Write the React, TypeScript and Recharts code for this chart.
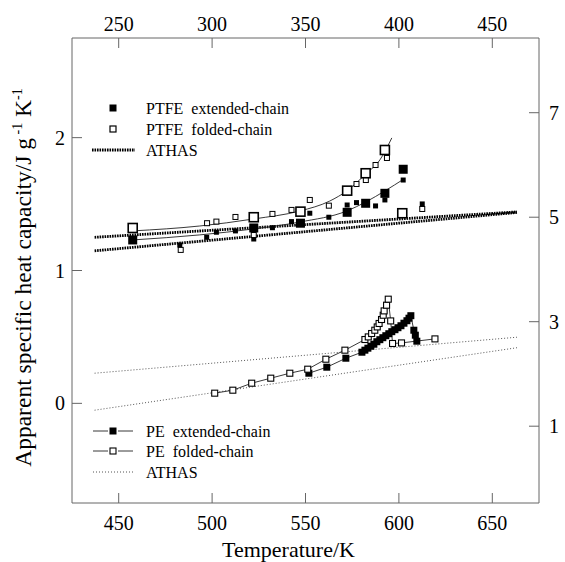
import React from 'react';
import { ComposedChart, XAxis, YAxis, Scatter, Line } from 'recharts';

// Axis ticks
const bottomTicks = [450, 500, 550, 600, 650];
const topTicks = [250, 300, 350, 400, 450];
const leftTicks = [0, 1, 2];
const rightTicks = [1, 3, 5, 7];

// PTFE (bottom axis: Temperature/K, left axis: J g-1 K-1)
const ptfeExtMain = [
  { T: 457.5, v: 1.23 }, { T: 522.3, v: 1.32 }, { T: 547.3, v: 1.356 }, { T: 572.3, v: 1.438 },
  { T: 582.2, v: 1.506 }, { T: 592.5, v: 1.581 }, { T: 602.3, v: 1.762 },
];
const ptfeFoldMain = [
  { T: 457.5, v: 1.32 }, { T: 522.3, v: 1.401 }, { T: 547.3, v: 1.443 }, { T: 572.3, v: 1.601 },
  { T: 582.2, v: 1.732 }, { T: 592.5, v: 1.907 }, { T: 601.8, v: 1.431 },
];
const ptfeExtRun2 = [
  { T: 482.7, v: 1.192 }, { T: 497.1, v: 1.25 }, { T: 502.3, v: 1.288 }, { T: 512.5, v: 1.298 },
  { T: 522.3, v: 1.237 }, { T: 532.3, v: 1.322 }, { T: 542.5, v: 1.368 }, { T: 552.3, v: 1.431 },
  { T: 562.5, v: 1.401 }, { T: 572.3, v: 1.493 }, { T: 577.3, v: 1.511 }, { T: 587.5, v: 1.486 },
  { T: 592.5, v: 1.531 }, { T: 602.3, v: 1.681 }, { T: 612.5, v: 1.501 },
];
const ptfeFoldRun2 = [
  { T: 483.2, v: 1.155 }, { T: 497.3, v: 1.356 }, { T: 502.3, v: 1.368 }, { T: 512.5, v: 1.403 },
  { T: 522.3, v: 1.267 }, { T: 532.3, v: 1.426 }, { T: 542.5, v: 1.456 }, { T: 552.3, v: 1.531 },
  { T: 562.5, v: 1.488 }, { T: 577.3, v: 1.651 }, { T: 582.3, v: 1.681 }, { T: 587.5, v: 1.794 },
  { T: 593.6, v: 1.847 }, { T: 612.5, v: 1.463 },
];
const ptfeExtFit = [
  { T: 457.5, v: 1.23 }, { T: 493.4, v: 1.268 }, { T: 522.3, v: 1.313 }, { T: 547.0, v: 1.365 },
  { T: 572.1, v: 1.448 }, { T: 582.3, v: 1.516 }, { T: 592.5, v: 1.599 }, { T: 602.7, v: 1.689 },
];
const ptfeFoldFit = [
  { T: 457.5, v: 1.298 }, { T: 493.4, v: 1.335 }, { T: 522.3, v: 1.388 }, { T: 547.0, v: 1.448 },
  { T: 563.0, v: 1.523 }, { T: 572.1, v: 1.599 }, { T: 582.3, v: 1.727 }, { T: 589.8, v: 1.832 },
  { T: 596.2, v: 1.998 },
];
const ptfeAthasLiquid = [{ T: 437.1, v: 1.25 }, { T: 663.2, v: 1.441 }];
const ptfeAthasSolid = [{ T: 437.1, v: 1.148 }, { T: 663.2, v: 1.437 }];

// PE (top axis: Temperature/K, right axis: J g-1 K-1)
const peFolded = [
  { T: 301.4, v: 1.632 }, { T: 311.1, v: 1.689 }, { T: 321.2, v: 1.823 }, { T: 331.4, v: 1.919 },
  { T: 341.6, v: 2.014 }, { T: 351.2, v: 2.091 }, { T: 360.9, v: 2.282 }, { T: 371.1, v: 2.455 },
  { T: 381.8, v: 2.659 }, { T: 383.6, v: 2.709 }, { T: 385.4, v: 2.774 }, { T: 387.1, v: 2.837 },
  { T: 388.4, v: 2.9 }, { T: 389.4, v: 2.966 }, { T: 390.7, v: 3.042 }, { T: 391.6, v: 3.124 },
  { T: 392.1, v: 3.207 }, { T: 393.4, v: 3.316 }, { T: 394.3, v: 3.431 }, { T: 395.6, v: 3.015 },
  { T: 396.6, v: 2.583 }, { T: 401.4, v: 2.594 }, { T: 419.3, v: 2.671 },
];
const peExtended = [
  { T: 351.8, v: 2.014 }, { T: 361.4, v: 2.129 }, { T: 371.6, v: 2.301 }, { T: 380.2, v: 2.416 },
  { T: 381.8, v: 2.455 }, { T: 383.4, v: 2.493 }, { T: 385.0, v: 2.531 }, { T: 386.6, v: 2.569 },
  { T: 388.2, v: 2.617 }, { T: 389.8, v: 2.656 }, { T: 391.4, v: 2.694 }, { T: 393.0, v: 2.732 },
  { T: 394.6, v: 2.77 }, { T: 396.2, v: 2.809 }, { T: 397.9, v: 2.847 }, { T: 399.5, v: 2.885 },
  { T: 401.1, v: 2.923 }, { T: 402.7, v: 2.971 }, { T: 404.3, v: 3.019 }, { T: 405.4, v: 3.067 },
  { T: 406.4, v: 3.115 }, { T: 408.0, v: 2.837 }, { T: 408.8, v: 2.742 }, { T: 409.6, v: 2.627 },
];
const peAthasLiquid = [{ T: 237.1, v: 2.014 }, { T: 463.2, v: 2.703 }];
const peAthasSolid = [{ T: 237.1, v: 1.306 }, { T: 463.2, v: 2.502 }];

const FONT = '"Liberation Serif", "Times New Roman", serif';
const FRAME = '#666';

const square = (size: number, filled: boolean, sw = 1.2) => (props: any) => {
  const { cx, cy } = props;
  if (cx == null || cy == null) return <g />;
  return (
    <rect
      x={cx - size / 2}
      y={cy - size / 2}
      width={size}
      height={size}
      fill={filled ? '#000' : '#fff'}
      stroke="#000"
      strokeWidth={filled ? 0 : sw}
    />
  );
};

const dotSquare = (size: number, filled: boolean) => (props: any) => {
  const { cx, cy, index } = props;
  if (cx == null || cy == null) return <g key={index} />;
  return (
    <rect
      key={index}
      x={cx - size / 2}
      y={cy - size / 2}
      width={size}
      height={size}
      fill={filled ? '#000' : '#fff'}
      stroke="#000"
      strokeWidth={filled ? 0 : 1.1}
    />
  );
};

const BottomTick = (p: any) => (
  <g>
    <line x1={p.x} y1={p.y} x2={p.x} y2={p.y - 10} stroke={FRAME} />
    <text x={p.x} y={p.y + 27} textAnchor="middle" fontSize={20} fontFamily={FONT} fill="#000">
      {p.payload.value}
    </text>
  </g>
);
const TopTick = (p: any) => (
  <g>
    <line x1={p.x} y1={p.y} x2={p.x} y2={p.y + 10} stroke={FRAME} />
    <text x={p.x} y={p.y - 7} textAnchor="middle" fontSize={20} fontFamily={FONT} fill="#000">
      {p.payload.value}
    </text>
  </g>
);
const LeftTick = (p: any) => (
  <g>
    <line x1={p.x} y1={p.y} x2={p.x + 10} y2={p.y} stroke={FRAME} />
    <text x={p.x - 7} y={p.y + 7} textAnchor="end" fontSize={20} fontFamily={FONT} fill="#000">
      {p.payload.value}
    </text>
  </g>
);
const RightTick = (p: any) => (
  <g>
    <line x1={p.x} y1={p.y} x2={p.x - 10} y2={p.y} stroke={FRAME} />
    <text x={p.x + 10} y={p.y + 7} textAnchor="start" fontSize={20} fontFamily={FONT} fill="#000">
      {p.payload.value}
    </text>
  </g>
);

const W = 565;
const H = 562;

export default function App() {
  return (
    <div style={{ position: 'fixed', left: 0, top: 0, width: W, height: H, overflow: 'hidden', background: '#fff' }}>
      <ComposedChart width={W} height={H} margin={{ top: 0, right: 0, bottom: 0, left: 0 }}>
        <XAxis
          xAxisId="bottom"
          orientation="bottom"
          type="number"
          dataKey="T"
          domain={[425, 675]}
          ticks={bottomTicks}
          allowDataOverflow
          height={59}
          tickSize={0}
          tickMargin={0}
          tickLine={false}
          axisLine={{ stroke: FRAME }}
          tick={BottomTick}
          label={{
            content: (props: any) => {
              const vb = props.viewBox || { x: 72, y: 503, width: 467, height: 59 };
              return (
                <text x={vb.x + vb.width / 2 - 17} y={vb.y + 54} textAnchor="middle" fontSize={22} fontFamily={FONT} fill="#000">
                  Temperature/K
                </text>
              );
            },
          }}
        />
        <XAxis
          xAxisId="top"
          orientation="top"
          type="number"
          dataKey="T"
          domain={[225, 475]}
          ticks={topTicks}
          allowDataOverflow
          height={38}
          tickSize={0}
          tickMargin={0}
          tickLine={false}
          axisLine={{ stroke: FRAME }}
          tick={TopTick}
        />
        <YAxis
          yAxisId="left"
          orientation="left"
          type="number"
          domain={[-0.75, 2.75]}
          ticks={leftTicks}
          allowDataOverflow
          width={72}
          tickSize={0}
          tickMargin={0}
          tickLine={false}
          axisLine={{ stroke: FRAME }}
          tick={LeftTick}
          label={{
            content: (props: any) => {
              const vb = props.viewBox || { x: 0, y: 38, width: 72, height: 465 };
              const cy = vb.y + vb.height / 2 + 7;
              return (
                <text
                  transform={`translate(31, ${cy}) rotate(-90)`}
                  textAnchor="middle"
                  fontSize={23.5}
                  fontFamily={FONT}
                  fill="#000"
                >
                  Apparent specific heat capacity/J g
                  <tspan dy={-9} fontSize={14}> -1</tspan>
                  <tspan dy={9}> K</tspan>
                  <tspan dy={-9} fontSize={14}>-1</tspan>
                </text>
              );
            },
          }}
        />
        <YAxis
          yAxisId="right"
          orientation="right"
          type="number"
          domain={[-0.47, 8.43]}
          ticks={rightTicks}
          allowDataOverflow
          width={26}
          tickSize={0}
          tickMargin={0}
          tickLine={false}
          axisLine={{ stroke: FRAME }}
          tick={RightTick}
        />

        {/* PTFE ATHAS */}
        <Line xAxisId="bottom" yAxisId="left" data={ptfeAthasLiquid} dataKey="v" type="linear" stroke="#000" strokeWidth={2.8} strokeDasharray="1.6 0.9" dot={false} isAnimationActive={false} />
        <Line xAxisId="bottom" yAxisId="left" data={ptfeAthasSolid} dataKey="v" type="linear" stroke="#000" strokeWidth={2.8} strokeDasharray="1.6 0.9" dot={false} isAnimationActive={false} />
        {/* PTFE fits */}
        <Line xAxisId="bottom" yAxisId="left" data={ptfeFoldFit} dataKey="v" type="monotone" stroke="#222" strokeWidth={0.9} dot={false} isAnimationActive={false} />
        <Line xAxisId="bottom" yAxisId="left" data={ptfeExtFit} dataKey="v" type="monotone" stroke="#222" strokeWidth={0.9} dot={false} isAnimationActive={false} />
        {/* PE ATHAS */}
        <Line xAxisId="top" yAxisId="right" data={peAthasLiquid} dataKey="v" type="linear" stroke="#555" strokeWidth={1} strokeDasharray="1 2" dot={false} isAnimationActive={false} />
        <Line xAxisId="top" yAxisId="right" data={peAthasSolid} dataKey="v" type="linear" stroke="#555" strokeWidth={1} strokeDasharray="1 2" dot={false} isAnimationActive={false} />

        {/* PTFE points */}
        <Scatter xAxisId="bottom" yAxisId="left" data={ptfeExtRun2} dataKey="v" shape={square(5, true)} isAnimationActive={false} />
        <Scatter xAxisId="bottom" yAxisId="left" data={ptfeFoldRun2} dataKey="v" shape={square(5, false, 1)} isAnimationActive={false} />
        <Scatter xAxisId="bottom" yAxisId="left" data={ptfeFoldMain} dataKey="v" shape={square(9, false, 1.6)} isAnimationActive={false} />
        <Scatter xAxisId="bottom" yAxisId="left" data={ptfeExtMain} dataKey="v" shape={square(9, true)} isAnimationActive={false} />

        {/* PE points with connecting lines */}
        <Line xAxisId="top" yAxisId="right" data={peExtended} dataKey="v" type="linear" stroke="#222" strokeWidth={0.9} dot={dotSquare(7, true)} isAnimationActive={false} />
        <Line xAxisId="top" yAxisId="right" data={peFolded} dataKey="v" type="linear" stroke="#222" strokeWidth={0.9} dot={dotSquare(6, false)} isAnimationActive={false} />
      </ComposedChart>

      <svg width={W} height={H} style={{ position: 'absolute', left: 0, top: 0, pointerEvents: 'none' }}>
        <g fontFamily={FONT} fontSize={16} fill="#000">
          {/* PTFE legend */}
          <rect x={109.5} y={104.5} width={7} height={7} fill="#000" />
          <text x={146} y={113.5}>PTFE{'\u00a0 '}extended-chain</text>
          <rect x={110} y={126} width={6} height={6} fill="#fff" stroke="#000" strokeWidth={1.2} />
          <text x={146} y={134.5}>PTFE{'\u00a0 '}folded-chain</text>
          <line x1={92} y1={150} x2={135} y2={150} stroke="#000" strokeWidth={2.8} strokeDasharray="1.6 0.9" />
          <text x={146} y={155.5}>ATHAS</text>

          {/* PE legend */}
          <line x1={93} y1={431} x2={108} y2={431} stroke="#222" strokeWidth={0.9} />
          <rect x={109.5} y={427.5} width={7} height={7} fill="#000" />
          <line x1={118} y1={431} x2={133} y2={431} stroke="#222" strokeWidth={0.9} />
          <text x={146} y={436.5}>PE{'\u00a0 '}extended-chain</text>
          <line x1={93} y1={451} x2={108} y2={451} stroke="#222" strokeWidth={0.9} />
          <rect x={110} y={448} width={6} height={6} fill="#fff" stroke="#000" strokeWidth={1.1} />
          <line x1={118} y1={451} x2={133} y2={451} stroke="#222" strokeWidth={0.9} />
          <text x={146} y={456.5}>PE{'\u00a0 '}folded-chain</text>
          <line x1={93} y1={472} x2={135} y2={472} stroke="#555" strokeWidth={1} strokeDasharray="1 2" />
          <text x={146} y={477.5}>ATHAS</text>
        </g>
      </svg>
    </div>
  );
}
